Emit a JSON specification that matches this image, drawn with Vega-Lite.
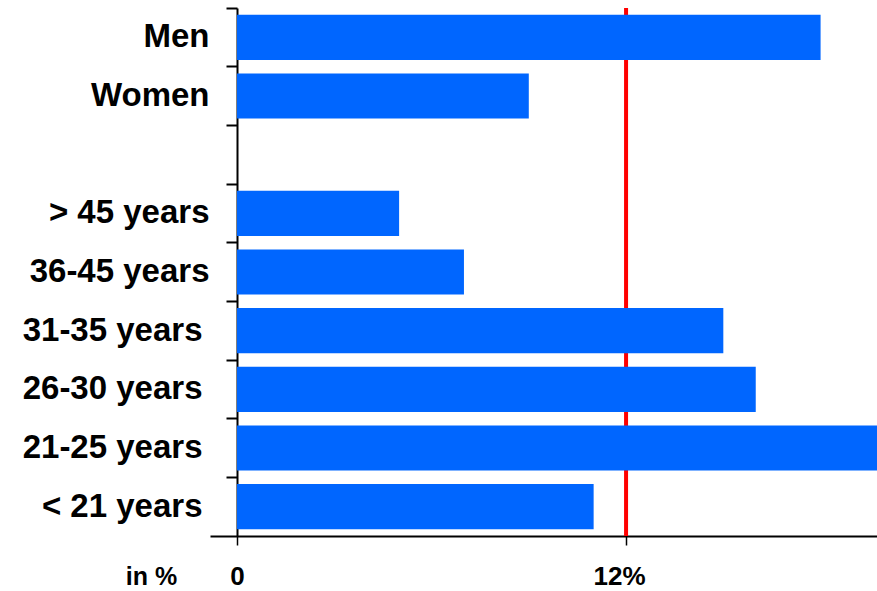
{
  "$schema": "https://vega.github.io/schema/vega-lite/v6.json",
  "width": 667,
  "height": 528,
  "autosize": {"type": "none"},
  "padding": {"left": 210, "top": 8, "right": 0, "bottom": 55},
  "background": "white",
  "config": {"view": {"stroke": null}, "font": "Liberation Sans"},
  "layer": [
    {
      "data": {"values": [{"threshold": 12}]},
      "mark": {"type": "rule", "color": "#ff0000", "strokeWidth": 4},
      "encoding": {
        "x": {"field": "threshold", "type": "quantitative", "scale": {"domain": [-0.833, 19.74], "nice": false, "zero": false}}
      }
    },
    {
      "data": {"values": [
        {"group": "Men", "value": 18},
        {"group": "Women", "value": 9},
        {"group": "> 45 years", "value": 5},
        {"group": "36-45 years", "value": 7},
        {"group": "31-35 years", "value": 15},
        {"group": "26-30 years", "value": 16},
        {"group": "21-25 years", "value": 20},
        {"group": "< 21 years", "value": 11}
      ]},
      "mark": {"type": "bar", "color": "#0066ff", "height": {"band": 0.77}, "clip": true},
      "encoding": {
        "y": {
          "field": "group", "type": "nominal",
          "scale": {"domain": ["Men", "Women", " ", "> 45 years", "36-45 years", "31-35 years", "26-30 years", "21-25 years", "< 21 years"], "paddingInner": 0, "paddingOuter": 0},
          "axis": {"title": null, "offset": -27, "bandPosition": 0, "tickSize": 11, "tickWidth": 2, "tickColor": "black", "domainWidth": 2, "domainColor": "black", "labelFontSize": 33, "labelFontWeight": "bold", "labelColor": "black",
            "labelPadding": {"condition": {"test": "indexof(['31-35 years','26-30 years','21-25 years','< 21 years'], datum.value) >= 0", "value": 24}, "value": 17},
            "labelLimit": 0, "grid": false}
        },
        "x": {
          "field": "value", "type": "quantitative",
          "scale": {"domain": [-0.833, 19.74], "nice": false, "zero": false},
          "axis": {"values": [0, 12], "labelExpr": "datum.value == 0 ? '0' : datum.value + '%'", "title": "in %", "titleX": -59, "titleY": 48, "titleAlign": "center", "titleBaseline": "alphabetic", "titleFontSize": 25, "titleFontWeight": "bold", "titleColor": "black", "titleAngle": 0, "labelFontSize": 26, "labelFontWeight": "bold", "labelColor": "black", "labelBaseline": "alphabetic", "labelPadding": 39,
            "labelOffset": {"condition": {"test": "datum.value == 12", "value": -7}, "value": 0},
            "tickSize": 9, "tickWidth": 1.5, "tickColor": "black", "domainColor": "black", "domainWidth": 2, "grid": false, "labelFlush": false, "labelOverlap": false}
        },
        "x2": {"datum": 0}
      }
    }
  ]
}
